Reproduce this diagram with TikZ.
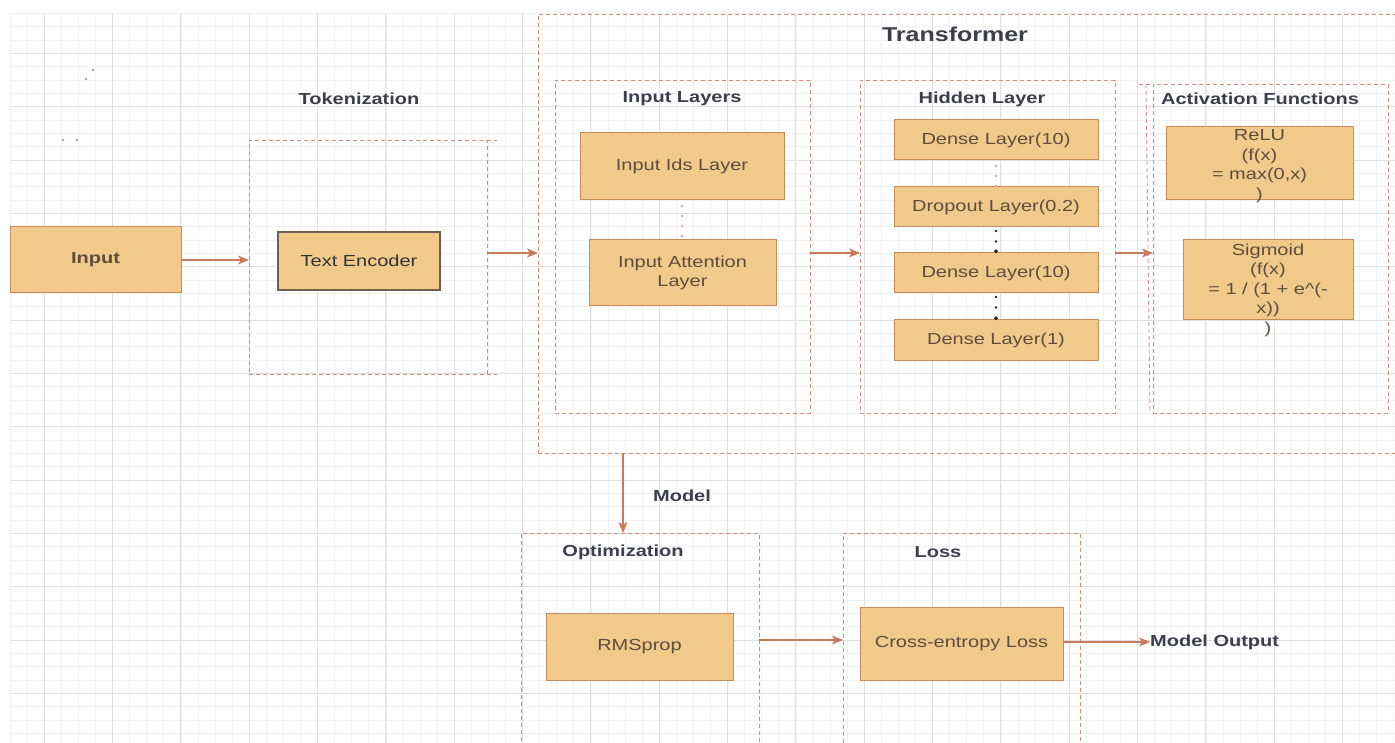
\documentclass[tikz,border=0pt]{standalone}
\usepackage{fontspec}
\setmainfont{Liberation Sans}[FakeStretch=1.25]
\usetikzlibrary{arrows.meta}

\definecolor{gridminor}{HTML}{F2F2F2}
\definecolor{gridmajor}{HTML}{E0E0E0}
\definecolor{boxfill}{HTML}{F0C98B}
\definecolor{boxdraw}{HTML}{C98B5E}
\definecolor{encdraw}{HTML}{6E604A}
\definecolor{framec}{HTML}{C9917F}
\definecolor{framered}{HTML}{DB8F8F}
\definecolor{arrowc}{HTML}{C97A5C}
\definecolor{labeltext}{HTML}{3B3F4A}
\definecolor{boxtext}{HTML}{5E4E3E}
\definecolor{softdot}{HTML}{E9AE90}
\definecolor{greydot}{HTML}{CDB5AA}

\tikzset{
  layer/.style={draw=boxdraw, fill=boxfill, line width=1pt, inner sep=0pt, outer sep=0pt,
    font=\fontsize{16}{19.5}\selectfont, text=boxtext, align=center},
  encoder/.style={layer, draw=encdraw, line width=2.6pt, text=black!80},
  group/.style={draw=framec, line width=0.9pt, dash pattern=on 4pt off 3pt, inner sep=0pt, outer sep=0pt},
  grouplabel/.style={font=\bfseries\fontsize{16}{19.5}\selectfont, text=labeltext, inner sep=0pt},
  bigtitle/.style={font=\bfseries\fontsize{20}{24}\selectfont, text=labeltext, inner sep=0pt},
  plaintext/.style={font=\fontsize{16}{19.5}\selectfont, text=boxtext, align=center, inner sep=0pt},
  flow/.style={draw=arrowc, line width=1.2pt, -{Stealth[length=11pt,width=9pt,inset=3pt]}},
  lightdots/.style={draw=#1, line width=3pt, line cap=round, dash pattern=on 0pt off 10pt, dash phase=4pt},
  blackdots/.style={draw=black!85, line width=2.6pt, line cap=round, dash pattern=on 0pt off 10.5pt,
    dash phase=6.5pt, -{Circle[length=3.5pt]}},
}

\begin{document}
\begin{tikzpicture}[x=1pt, y=-1pt]
  \useasboundingbox (0,0) rectangle (1395,743);
  \clip (0,0) rectangle (1395,743);
  \fill[white] (0,0) rectangle (1395,743);

  % background grid: fine lines, then every fourth line darker
  \foreach \i in {0,...,81}
    \draw[gridminor, line width=0.7pt] ({10.083+17.0833*\i},13.333) -- ({10.083+17.0833*\i},743);
  \foreach \j in {1,...,55}
    \draw[gridminor, line width=0.7pt] (10.083,{13.333*\j}) -- (1395,{13.333*\j});
  \foreach \i in {0,...,20}
    \draw[gridmajor, line width=0.9pt] ({44.25+68.333*\i},13.333) -- ({44.25+68.333*\i},743);
  \foreach \j in {1,...,13}
    \draw[gridmajor, line width=0.9pt] (10.083,{53.333*\j}) -- (1395,{53.333*\j});

  % stray points near the corner
  \fill[gray!75] (93,70) circle (1.4) (86,79) circle (1.4) (63,140) circle (1.4) (77,140) circle (1.4);

  % ---------- tokenization ----------
  \node[layer, font=\bfseries\fontsize{16}{19.5}\selectfont, minimum width=171, minimum height=66] (input) at (95.5,260) {Input};
  \node[group, minimum width=238, minimum height=234] (tok) at (368,257) {};
  \draw[group] (tok.north east) -- ++(10,0);
  \draw[group] (tok.south east) -- ++(10,0);
  \node[grouplabel] (toklbl) at (359,99) {Tokenization};
  \node[encoder, minimum width=162, minimum height=58] (enc) at (359,261) {Text Encoder};

  % ---------- transformer ----------
  \node[group, minimum width=882, minimum height=439] (tf) at (979,233.5) {};
  \node[bigtitle] (tflbl) at (955,34) {Transformer};

  % input layers
  \node[group, minimum width=255, minimum height=333] (il) at (682.5,246.5) {};
  \node[grouplabel] (illbl) at (682,99) {Input Layers};
  \node[layer, minimum width=204, minimum height=67] (ids) at (682,166.5) {Input Ids Layer};
  \node[layer, minimum width=187, minimum height=66] (att) at (682.5,273) {Input Attention\\Layer};
  \draw[lightdots=softdot] (ids.south) -- (ids.south |- att.north);

  % hidden layer
  \node[group, minimum width=255, minimum height=333] (hl) at (987.5,246.5) {};
  \node[grouplabel] (hllbl) at (982,99) {Hidden Layer};
  \node[layer, minimum width=204, minimum height=40] (d1) at (996,140) {Dense Layer(10)};
  \node[layer, minimum width=204, minimum height=40] (dr) at (996,207) {Dropout Layer(0.2)};
  \node[layer, minimum width=204, minimum height=40] (d2) at (996,273) {Dense Layer(10)};
  \node[layer, minimum width=204, minimum height=40] (d3) at (996,340) {Dense Layer(1)};
  \draw[lightdots=greydot] (d1.south) -- (dr.north);
  \draw[blackdots] (dr.south) -- (d2.north);
  \draw[blackdots] (d2.south) -- (d3.north);

  % activation functions
  \node[group, minimum width=235, minimum height=329] (af) at (1270.5,248.5) {};
  \draw[group, draw=framered] ([xshift=-7pt]af.north west) -- ([xshift=-3pt]af.south west);
  \draw[group] ([xshift=-14pt]af.north west) -- (af.north west);
  \node[grouplabel] (aflbl) at (1260,99) {Activation Functions};
  \node[layer, minimum width=187, minimum height=73] (relu) at (1259.5,163.5) {};
  \node[plaintext] (relutext) at (1259.5,166) {ReLU\\(f(x)\\= max(0,x)\\)};
  \node[layer, minimum width=170, minimum height=80] (sig) at (1268,280) {};
  \node[plaintext] (sigtext) at (1268,290)
    {Sigmoid\\(f(x)\\= 1 / (1 + e\textasciicircum(-\\x))\hspace*{60pt}\\)};

  % ---------- training ----------
  \node[group, minimum width=238, minimum height=237] (opt) at (640,651.5) {};
  \node[grouplabel] (optlbl) at (623,552) {Optimization};
  \node[layer, minimum width=187, minimum height=67] (rms) at (639.5,646.5) {RMSprop};

  \node[group, minimum width=237, minimum height=237] (loss) at (961.5,651.5) {};
  \node[grouplabel] (losslbl) at (938,552) {Loss};
  \node[layer, minimum width=203, minimum height=73] (ce) at (961.5,643.5) {Cross-entropy Loss};

  \node[grouplabel] (mdl) at (682,496) {Model};
  \node[grouplabel, anchor=west] (out) at (1150,642) {Model Output};

  % ---------- connectors ----------
  \draw[flow] (input.east) -- (input.east -| tok.west);
  \draw[flow] ([yshift=4pt]tok.east) -- ([yshift=4pt]tok.east -| tf.west);
  \draw[flow] ([yshift=-6.5pt]il.east) -- ([yshift=-6.5pt]il.east -| hl.west);
  \draw[flow] ([yshift=-6.5pt]hl.east) -- ([yshift=-6.5pt]hl.east -| af.west);
  \draw[flow] (tf.south -| optlbl) -- (optlbl |- opt.north);
  \draw[flow] ([yshift=6.5pt]rms.east -| opt.east) -- ([yshift=6.5pt]rms.east -| loss.west);
  \draw[flow] (out.west -| ce.east) -- (out.west);
\end{tikzpicture}
\end{document}
